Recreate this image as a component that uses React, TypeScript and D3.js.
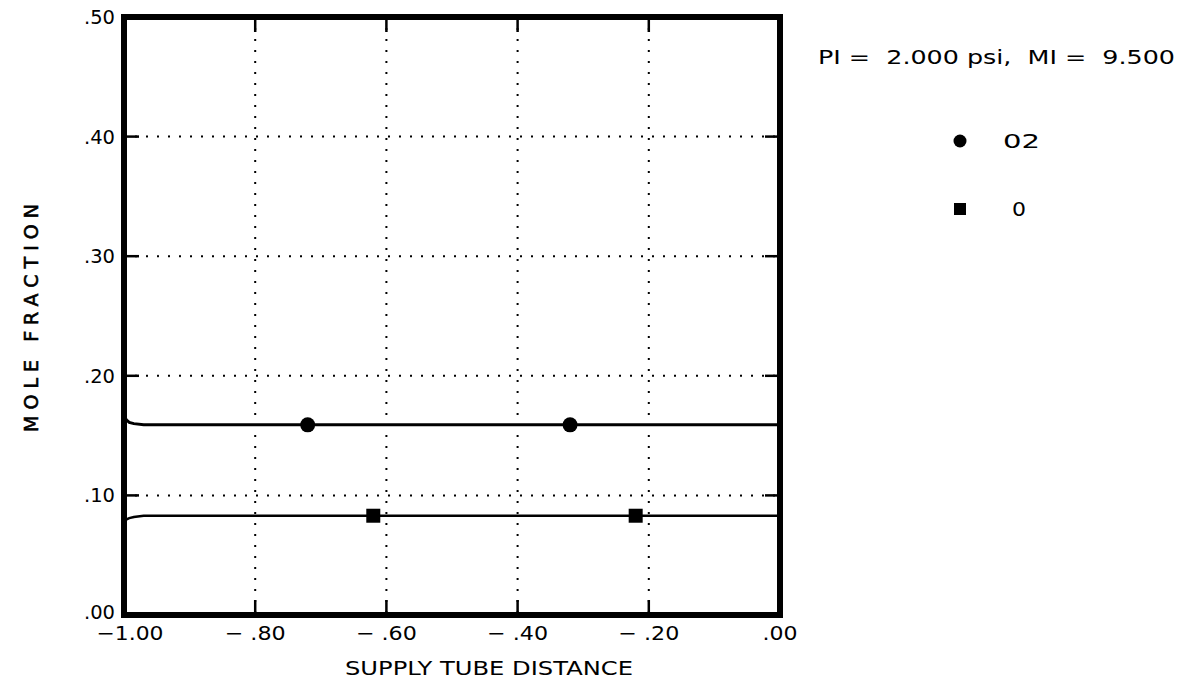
import React from "react";
import * as d3 from "d3";

const xTicks = [-1.0, -0.8, -0.6, -0.4, -0.2, 0.0];
const xTickLabels = ["\u22121.00", "\u2212 .80", "\u2212 .60", "\u2212 .40", "\u2212 .20", ".00"];
const yTicks = [0.0, 0.1, 0.2, 0.3, 0.4, 0.5];
const yTickLabels = [".00", ".10", ".20", ".30", ".40", ".50"];

const lineX = [-1.0, -0.996, -0.992, -0.985, -0.97, -0.9, -0.5, 0.0];
const o2Line = [0.166, 0.163, 0.161, 0.16, 0.159, 0.159, 0.159, 0.159];
const oLine = [0.078, 0.080, 0.081, 0.082, 0.083, 0.083, 0.083, 0.083];

const o2MarkX = [-0.72, -0.32];
const o2MarkY = [0.159, 0.159];
const oMarkX = [-0.62, -0.22];
const oMarkY = [0.083, 0.083];

const FONT = "'DejaVu Sans', sans-serif";

export default function App() {
  const W = 1186, H = 692;
  const x = d3.scaleLinear().domain([-1, 0]).range([124, 780]);
  const y = d3.scaleLinear().domain([0, 0.5]).range([615, 17]);
  const line = d3.line<number>().x((_, i) => x(lineX[i])).y((v) => y(v));

  const xLabelLen = (s: string) => (s.startsWith("\u22121") ? 67 : s.startsWith("\u2212") ? 61 : 35);

  return (
    <svg width={W} height={H} style={{ position: "absolute", left: 0, top: 0, background: "#fff" }}>
      <rect x={0} y={0} width={W} height={H} fill="#fff" />
      {xTicks.slice(1, -1).map((t) => (
        <line key={"gx" + t} x1={x(t)} x2={x(t)} y1={y(0.5)} y2={y(0)} stroke="#000" strokeWidth={2} strokeDasharray="2 9" />
      ))}
      {yTicks.slice(1, -1).map((t) => (
        <line key={"gy" + t} x1={x(-1)} x2={x(0)} y1={y(t)} y2={y(t)} stroke="#000" strokeWidth={2} strokeDasharray="2 9" />
      ))}
      {xTicks.slice(1, -1).map((t) => (
        <g key={"tx" + t}>
          <line x1={x(t)} x2={x(t)} y1={y(0)} y2={y(0) - 15} stroke="#000" strokeWidth={2.5} />
          <line x1={x(t)} x2={x(t)} y1={y(0.5)} y2={y(0.5) + 15} stroke="#000" strokeWidth={2.5} />
        </g>
      ))}
      {yTicks.slice(1, -1).map((t) => (
        <g key={"ty" + t}>
          <line x1={x(-1)} x2={x(-1) + 15} y1={y(t)} y2={y(t)} stroke="#000" strokeWidth={2.5} />
          <line x1={x(0)} x2={x(0) - 15} y1={y(t)} y2={y(t)} stroke="#000" strokeWidth={2.5} />
        </g>
      ))}
      <path d={line(o2Line) || ""} fill="none" stroke="#000" strokeWidth={3} />
      <path d={line(oLine) || ""} fill="none" stroke="#000" strokeWidth={2.5} />
      {o2MarkX.map((v, i) => (
        <circle key={"c" + i} cx={x(v)} cy={y(o2MarkY[i])} r={7.5} fill="#000" />
      ))}
      {oMarkX.map((v, i) => (
        <rect key={"s" + i} x={x(v) - 7} y={y(oMarkY[i]) - 7} width={14} height={14} fill="#000" />
      ))}
      <rect x={x(-1)} y={y(0.5)} width={x(0) - x(-1)} height={y(0) - y(0.5)} fill="none" stroke="#000" strokeWidth={6} />
      {xTicks.map((t, i) => (
        <text key={"lx" + t} x={x(t) + (i === 0 ? 6 : 0)} y={640} textAnchor="middle" fontFamily={FONT} fontSize={20} fill="#000"
          textLength={xLabelLen(xTickLabels[i])} lengthAdjust="spacingAndGlyphs">
          {xTickLabels[i]}
        </text>
      ))}
      {yTicks.map((t, i) => (
        <text key={"ly" + t} x={115} y={y(t) + 7 - (t === 0 ? 3 : 0)} textAnchor="end" fontFamily={FONT} fontSize={20} fill="#000"
          textLength={31} lengthAdjust="spacingAndGlyphs">
          {yTickLabels[i]}
        </text>
      ))}
      <text x={489} y={675} textAnchor="middle" fontFamily={FONT} fontSize={20} fill="#000" textLength={288} lengthAdjust="spacingAndGlyphs">
        SUPPLY TUBE DISTANCE
      </text>
      <text transform="translate(38,318) rotate(-90)" textAnchor="middle" fontFamily={FONT} fontSize={19} fill="#000" textLength={228} lengthAdjust="spacing" stroke="#000" strokeWidth={0.6}>
        MOLE FRACTION
      </text>
      <text x={818} y={64} fontFamily={FONT} fontSize={20} fill="#000" textLength={357} lengthAdjust="spacingAndGlyphs" xmlSpace="preserve">
        {"PI =  2.000 psi,  MI =  9.500"}
      </text>
      <circle cx={960} cy={141} r={6.5} fill="#000" />
      <text x={1003} y={148} fontFamily={FONT} fontSize={20} fill="#000" textLength={37} lengthAdjust="spacingAndGlyphs">02</text>
      <rect x={954} y={203} width={12} height={12} fill="#000" />
      <text x={1012} y={216} fontFamily={FONT} fontSize={20} fill="#000" textLength={14} lengthAdjust="spacingAndGlyphs">0</text>
    </svg>
  );
}
